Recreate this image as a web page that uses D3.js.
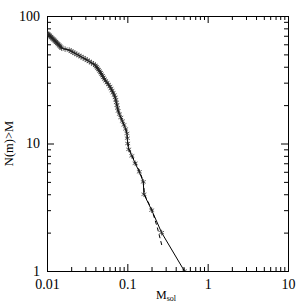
<!DOCTYPE html>
<html>
<head>
<meta charset="utf-8">
<script src="https://cdn.jsdelivr.net/npm/d3@7"></script>
<style>
  body { margin: 0; background: #fff; }
</style>
</head>
<body>
<script>
// cumulative count N(m)>M, one entry per object, rank 1..73
var masses = [0.513, 0.267, 0.201, 0.161, 0.158, 0.141, 0.125, 0.1138, 0.104, 0.101,
    0.100, 0.0989, 0.0953, 0.0908, 0.0867, 0.0829, 0.0796, 0.0769, 0.0755, 0.0742,
    0.0730, 0.0718, 0.0706, 0.0687, 0.0664, 0.0644, 0.0625, 0.0606, 0.0582, 0.0559,
    0.0537, 0.0519, 0.0503, 0.0490, 0.0476, 0.0464, 0.0451, 0.0437, 0.0424, 0.0411,
    0.0400, 0.0380, 0.0357, 0.0336, 0.0317, 0.0299, 0.0282, 0.0265, 0.0250, 0.0235,
    0.0222, 0.0210, 0.0200, 0.0189, 0.0168, 0.0152, 0.0149, 0.0145, 0.0142, 0.0138,
    0.0135, 0.0131, 0.0128, 0.0125, 0.0122, 0.0119, 0.0116, 0.0113, 0.0111, 0.0108,
    0.0106, 0.0104, 0.0101];

// dashed curve: differs from the solid one only at the high-mass end
var dashMass = [0.268, 0.236, 0.203, 0.163, 0.159, 0.143, 0.127, 0.115, 0.106, 0.102];
var dashN = [1.6, 2.2, 3.0, 4.0, 5.0, 6.0, 7.0, 8.0, 9.0, 10.0];

var xMajor = [0.01, 0.1, 1, 10];
var yMajor = [1, 10, 100];

var svgWidth = 304;
var svgHeight = 304;

// plot box (can't use "top" as a global name, it's window.top)
var pLeft = 47, pRight = 288, pTop = 16, pBottom = 271;

var svg = d3.select('body')
    .append('svg')
    .attr('width', svgWidth)
    .attr('height', svgHeight)
    .attr('font-family', '"Liberation Serif", "DejaVu Serif", serif');

var x = d3.scaleLog().domain([0.01, 10]).range([pLeft, pRight]);
var y = d3.scaleLog().domain([1, 100]).range([pBottom, pTop]);

// minor ticks 2..9 in each decade
var xMinor = [];
xMajor.slice(0, -1).forEach(function(d) {
    for (var k = 2; k < 10; k++) xMinor.push(d * k);
});
var yMinor = [];
yMajor.slice(0, -1).forEach(function(d) {
    for (var k = 2; k < 10; k++) yMinor.push(d * k);
});

function styleAxis(g) {
    g.selectAll('path, line').attr('stroke', '#000').attr('stroke-width', 1);
    g.selectAll('text').attr('fill', '#000').attr('font-size', 14)
        .attr('font-family', '"Liberation Serif", "DejaVu Serif", serif');
}

// bottom
svg.append('g').attr('transform', `translate(0,${pBottom})`)
    .call(d3.axisBottom(x).tickValues(xMinor).tickSize(-4).tickSizeOuter(0).tickFormat(''))
    .call(styleAxis);
svg.append('g').attr('transform', `translate(0,${pBottom})`)
    .call(d3.axisBottom(x).tickValues(xMajor).tickSize(-7).tickSizeOuter(0)
        .tickPadding(8).tickFormat(d3.format('~g')))
    .call(styleAxis);
// top
svg.append('g').attr('transform', `translate(0,${pTop})`)
    .call(d3.axisTop(x).tickValues(xMinor).tickSize(-4).tickSizeOuter(0).tickFormat(''))
    .call(styleAxis);
svg.append('g').attr('transform', `translate(0,${pTop})`)
    .call(d3.axisTop(x).tickValues(xMajor).tickSize(-7).tickSizeOuter(0).tickFormat(''))
    .call(styleAxis);
// left
svg.append('g').attr('transform', `translate(${pLeft},0)`)
    .call(d3.axisLeft(y).tickValues(yMinor).tickSize(-4).tickSizeOuter(0).tickFormat(''))
    .call(styleAxis);
svg.append('g').attr('transform', `translate(${pLeft},0)`)
    .call(d3.axisLeft(y).tickValues(yMajor).tickSize(-7).tickSizeOuter(0)
        .tickPadding(7).tickFormat(d3.format('~g')))
    .call(styleAxis);
// right
svg.append('g').attr('transform', `translate(${pRight},0)`)
    .call(d3.axisRight(y).tickValues(yMinor).tickSize(-4).tickSizeOuter(0).tickFormat(''))
    .call(styleAxis);
svg.append('g').attr('transform', `translate(${pRight},0)`)
    .call(d3.axisRight(y).tickValues(yMajor).tickSize(-7).tickSizeOuter(0).tickFormat(''))
    .call(styleAxis);

var data = masses.map(function(m, i) { return { m: m, n: i + 1 }; });
var dashData = dashMass.map(function(m, i) { return { m: m, n: dashN[i] }; })
    .concat(data.slice(dashMass.length));

svg.append('clipPath').attr('id', 'plotclip')
    .append('rect').attr('x', pLeft).attr('y', pTop)
    .attr('width', pRight - pLeft).attr('height', pBottom - pTop);

var plot = svg.append('g').attr('clip-path', 'url(#plotclip)');

var line = d3.line().x(d => x(d.m)).y(d => y(d.n));

plot.append('path')
    .datum(dashData)
    .attr('d', line)
    .attr('fill', 'none')
    .attr('stroke', '#000')
    .attr('stroke-width', 1)
    .attr('stroke-dasharray', '4,3');

plot.append('path')
    .datum(data)
    .attr('d', line)
    .attr('fill', 'none')
    .attr('stroke', '#000')
    .attr('stroke-width', 1);

// star markers, thin and a bit grey like the original
var star = d3.symbol().type(d3.symbolAsterisk).size(22);
plot.selectAll('.pt')
    .data(data)
    .enter()
    .append('path')
    .attr('class', 'pt')
    .attr('transform', d => `translate(${x(d.m)},${y(d.n)})`)
    .attr('d', star)
    .attr('fill', 'none')
    .attr('stroke', '#222')
    .attr('stroke-width', 0.7);

// axis titles
var xt = svg.append('text')
    .attr('x', 166)
    .attr('y', 299)
    .attr('text-anchor', 'middle')
    .attr('font-size', 12)
    .attr('fill', '#000');
xt.append('tspan').text('M');
xt.append('tspan').attr('font-size', 8).attr('dy', 2).text('sol');

svg.append('text')
    .attr('transform', `translate(13,${(pTop + pBottom) / 2}) rotate(-90)`)
    .attr('text-anchor', 'middle')
    .attr('font-size', 12.5)
    .attr('fill', '#000')
    .text('N(m)>M');
</script>
</body>
</html>
